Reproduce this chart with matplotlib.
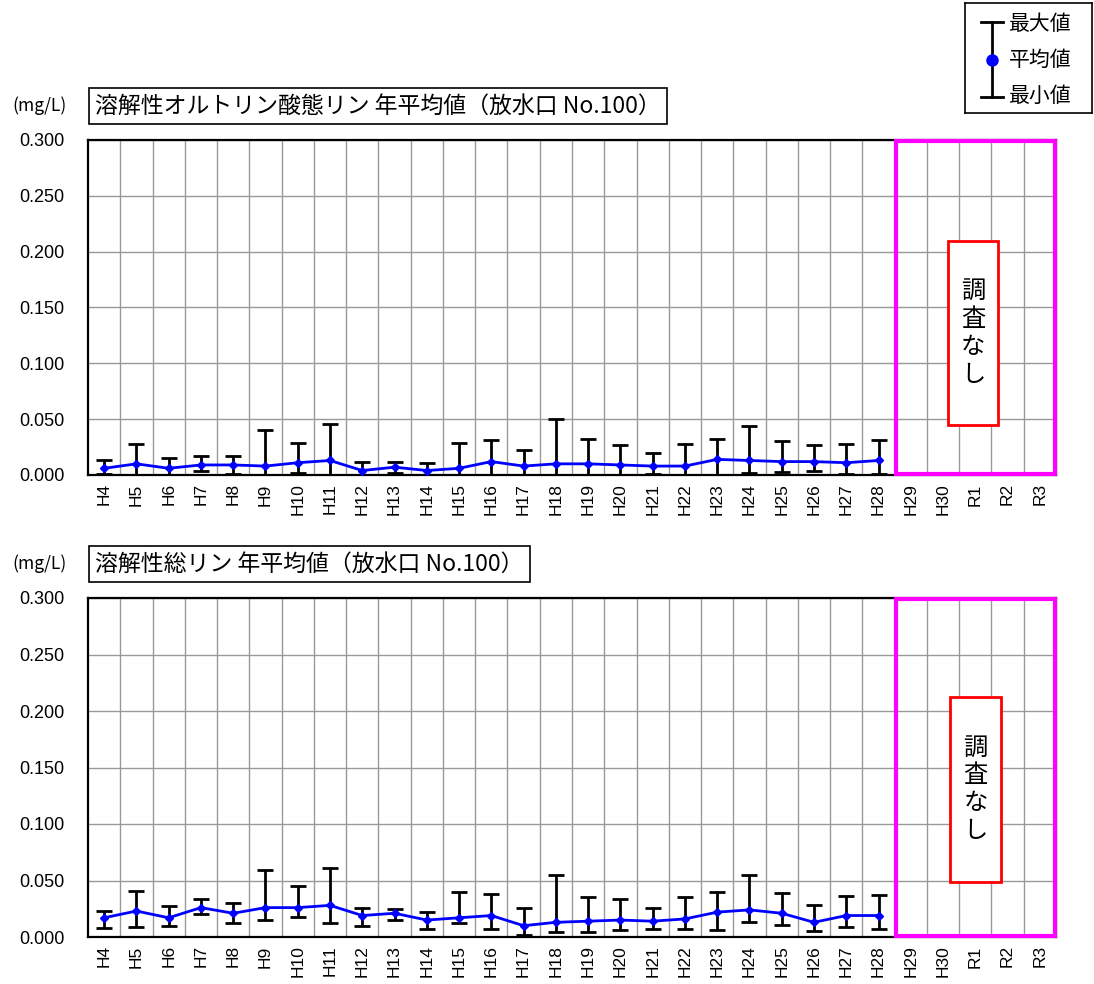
import matplotlib
matplotlib.use("Agg")
import matplotlib.pyplot as plt
from matplotlib.patches import Rectangle
from matplotlib.lines import Line2D
import numpy as np

# Survey years (Heisei 4 .. Reiwa 3)
years = ["H4", "H5", "H6", "H7", "H8", "H9", "H10", "H11", "H12", "H13",
         "H14", "H15", "H16", "H17", "H18", "H19", "H20", "H21", "H22", "H23",
         "H24", "H25", "H26", "H27", "H28", "H29", "H30", "R1", "R2", "R3"]

# Dissolved orthophosphate phosphorus (mg/L), H4..H28
ortho_mean = [0.006, 0.010, 0.006, 0.009, 0.009, 0.008, 0.011, 0.013, 0.004, 0.007,
              0.004, 0.006, 0.012, 0.008, 0.010, 0.010, 0.009, 0.008, 0.008, 0.014,
              0.013, 0.012, 0.012, 0.011, 0.013]
ortho_max = [0.013, 0.028, 0.015, 0.017, 0.017, 0.040, 0.029, 0.046, 0.012, 0.012,
             0.011, 0.029, 0.031, 0.022, 0.050, 0.032, 0.027, 0.020, 0.028, 0.032,
             0.044, 0.030, 0.027, 0.028, 0.031]
ortho_min = [0.001, 0.000, 0.000, 0.004, 0.001, 0.000, 0.002, 0.000, 0.000, 0.002,
             0.000, 0.000, 0.000, 0.000, 0.000, 0.000, 0.000, 0.001, 0.000, 0.000,
             0.002, 0.003, 0.004, 0.001, 0.001]

# Dissolved total phosphorus (mg/L), H4..H28
total_mean = [0.017, 0.023, 0.017, 0.026, 0.021, 0.026, 0.026, 0.028, 0.019, 0.021,
              0.015, 0.017, 0.019, 0.010, 0.013, 0.014, 0.015, 0.014, 0.016, 0.022,
              0.024, 0.021, 0.013, 0.019, 0.019]
total_max = [0.023, 0.041, 0.027, 0.034, 0.030, 0.059, 0.045, 0.061, 0.026, 0.025,
             0.022, 0.040, 0.038, 0.026, 0.055, 0.035, 0.034, 0.026, 0.035, 0.040,
             0.055, 0.039, 0.028, 0.036, 0.037]
total_min = [0.008, 0.009, 0.010, 0.020, 0.012, 0.015, 0.018, 0.012, 0.010, 0.015,
             0.007, 0.012, 0.007, 0.002, 0.004, 0.004, 0.006, 0.007, 0.007, 0.006,
             0.013, 0.011, 0.005, 0.009, 0.007]

titles = ["溶解性オルトリン酸態リン 年平均値（放水口 No.100）",
          "溶解性総リン 年平均値（放水口 No.100）"]
no_survey_label = "調査なし"
unit_label = "(mg/L)"
legend_labels = ["最大値", "平均値", "最小値"]

JP = ["Noto Sans CJK JP", "DejaVu Sans"]
NUM = ["Liberation Sans", "DejaVu Sans"]

W, H = 1094, 984
fig = plt.figure(figsize=(W / 100, H / 100), dpi=100)


def fx(px):
    return px / W


def fy(py):
    return 1 - py / H


def draw_panel(top_px, bottom_px, title, mean, vmax, vmin, title_box):
    left_px, right_px = 88, 1056
    ax = fig.add_axes([fx(left_px), fy(bottom_px), fx(right_px - left_px),
                       (bottom_px - top_px) / H])
    n = len(years)
    x_all = np.arange(n)
    x = np.arange(len(mean))
    mean = np.array(mean)
    vmax = np.array(vmax)
    vmin = np.array(vmin)

    ax.set_xlim(-0.5, n - 0.5)
    ax.set_ylim(0, 0.3)
    ax.set_yticks(np.arange(0, 0.301, 0.05))
    ax.set_yticklabels([f"{v:.3f}" for v in np.arange(0, 0.301, 0.05)],
                       family=NUM, fontsize=13)
    ax.set_xticks(x_all)
    ax.set_xticklabels(years, rotation=90, family=NUM, fontsize=12.5)
    ax.set_xticks(np.arange(0.5, n - 0.5, 1), minor=True)
    ax.tick_params(axis="both", which="both", length=0)
    ax.tick_params(axis="y", pad=17)
    ax.tick_params(axis="x", pad=6)
    ax.grid(True, which="minor", axis="x", color="#999999", lw=1)
    ax.grid(True, which="major", axis="y", color="#999999", lw=1)
    ax.set_axisbelow(True)
    for s in ax.spines.values():
        s.set_linewidth(1.6)
        s.set_color("black")

    ax.errorbar(x, mean, yerr=[mean - vmin, vmax - mean], fmt="none",
                ecolor="black", elinewidth=2, capsize=5.5, capthick=2, zorder=3)
    ax.plot(x, mean, color="#0000ff", lw=2, marker="D", ms=4.5,
            markerfacecolor="#0000ff", markeredgecolor="#0000ff", zorder=4)

    # Years without survey
    ax.add_patch(Rectangle((24.5 + 0.03, 0.0012), 5 - 0.06, 0.2976,
                           fill=False, edgecolor="#ff00ff", lw=3, zorder=5,
                           clip_on=False))
    bx0, bx1, by0, by1 = title_box
    ax.add_patch(Rectangle((bx0, by0), bx1 - bx0, by1 - by0, facecolor="white",
                           edgecolor="#ff0000", lw=2, zorder=5))
    ax.text((bx0 + bx1) / 2, (by0 + by1) / 2, "\n".join(no_survey_label),
            ha="center", va="center", family=JP, fontsize=17.5,
            linespacing=1.1, zorder=6)

    # Unit and title
    fig.text(fx(40), fy(top_px - 34), unit_label, ha="center", va="center",
             family=JP, fontsize=12.5)
    fig.text(fx(95), fy(top_px - 34), title, ha="left", va="center",
             family=JP, fontsize=16.5,
             bbox=dict(boxstyle="square,pad=0.28", facecolor="white",
                       edgecolor="black", lw=1.2))
    return ax


draw_panel(140, 475, titles[0], ortho_mean, ortho_max, ortho_min,
           (26.15, 27.7, 0.0448, 0.2095))
draw_panel(598, 937, titles[1], total_mean, total_max, total_min,
           (26.2, 27.8, 0.0487, 0.2124))

# Legend box
lax = fig.add_axes([fx(965), fy(113), fx(1092 - 965), (113 - 3) / H])
lax.set_xlim(0, 127)
lax.set_ylim(110, 0)
lax.set_xticks([])
lax.set_yticks([])
for s in lax.spines.values():
    s.set_linewidth(1.2)
lax.add_line(Line2D([27, 27], [19, 94], color="black", lw=2))
lax.add_line(Line2D([16, 38], [19, 19], color="black", lw=2))
lax.add_line(Line2D([16, 38], [94, 94], color="black", lw=2))
lax.plot([27], [57], marker="o", ms=8, color="#0000ff")
for yy, lab in zip([21, 57, 93], legend_labels):
    lax.text(44, yy, lab, ha="left", va="center", family=JP, fontsize=15)

fig.savefig("out.png", dpi=100)
